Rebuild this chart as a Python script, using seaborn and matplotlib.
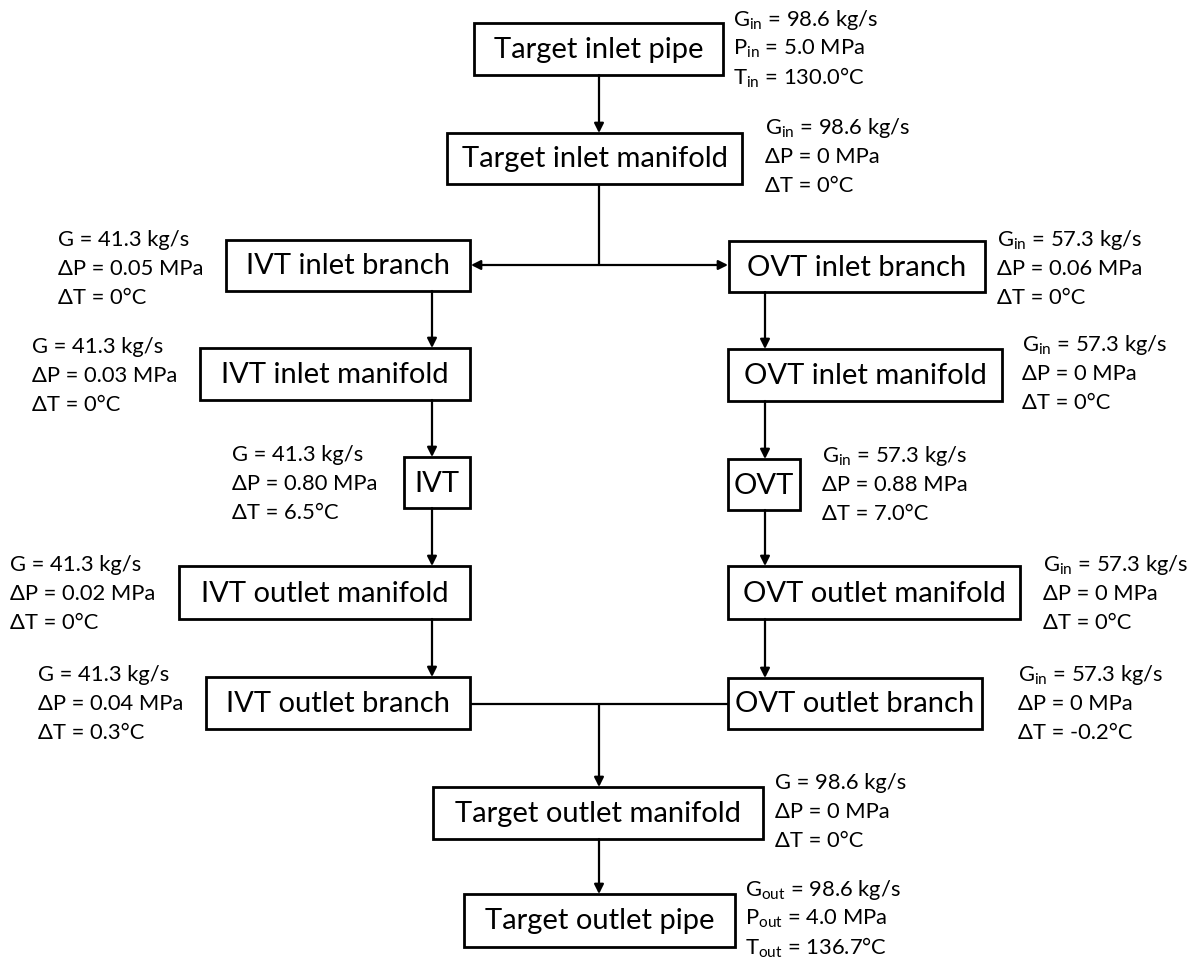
import matplotlib
matplotlib.use("Agg")
import matplotlib.pyplot as plt
import seaborn as sns
from matplotlib.patches import Rectangle

sns.set_theme(style="white")
plt.rcParams['font.family'] = ['Lato', 'DejaVu Sans']
plt.rcParams['mathtext.fontset'] = 'custom'
plt.rcParams['mathtext.rm'] = 'Lato'

# component names
names = ["Target inlet pipe", "Target inlet manifold",
         "IVT inlet branch", "OVT inlet branch",
         "IVT inlet manifold", "OVT inlet manifold",
         "IVT", "OVT",
         "IVT outlet manifold", "OVT outlet manifold",
         "IVT outlet branch", "OVT outlet branch",
         "Target outlet manifold", "Target outlet pipe"]

# flow values per component
g_label = ["G_{in}", "G_{in}", "G", "G_{in}", "G", "G_{in}", "G", "G_{in}",
           "G", "G_{in}", "G", "G_{in}", "G", "G_{out}"]
g_vals = [98.6, 98.6, 41.3, 57.3, 41.3, 57.3, 41.3, 57.3, 41.3, 57.3, 41.3, 57.3, 98.6, 98.6]
p_label = ["P_{in}", "ΔP", "ΔP", "ΔP", "ΔP", "ΔP", "ΔP", "ΔP", "ΔP", "ΔP", "ΔP", "ΔP", "ΔP", "P_{out}"]
p_vals = ["5.0", "0", "0.05", "0.06", "0.03", "0", "0.80", "0.88", "0.02", "0", "0.04", "0", "0", "4.0"]
t_label = ["T_{in}", "ΔT", "ΔT", "ΔT", "ΔT", "ΔT", "ΔT", "ΔT", "ΔT", "ΔT", "ΔT", "ΔT", "ΔT", "T_{out}"]
t_vals = ["130.0", "0", "0", "0", "0", "0", "6.5", "7.0", "0", "0", "0.3", "-0.2", "0", "136.7"]

# layout in pixel coords: box (x0, y0, x1, y1), side text anchor (x, y of first line)
boxes = [(474, 23, 723, 75), (447, 133, 742, 184),
         (226, 240, 470, 291), (729, 241, 985, 292),
         (200, 348, 470, 400), (728, 349, 1002, 401),
         (404, 457, 470, 508), (728, 459, 800, 510),
         (179, 566, 470, 619), (728, 566, 1020, 619),
         (206, 677, 470, 729), (728, 678, 982, 729),
         (433, 787, 763, 839), (464, 894, 735, 947)]
side = [(733, 20), (765, 128), (58, 240), (997, 240), (32, 347), (1022, 345),
        (232, 455), (822, 456), (10, 565), (1043, 565), (38, 675), (1018, 675),
        (775, 783), (745, 890)]
line_gap = 29

fig = plt.figure(figsize=(12.04, 9.64), dpi=100)
ax = fig.add_axes([0, 0, 1, 1])
ax.set_xlim(0, 1204)
ax.set_ylim(964, 0)
ax.axis("off")


def sub(s):
    if "_" in s:
        return "$\\mathregular{" + s + "}$"
    return s


for i, name in enumerate(names):
    x0, y0, x1, y1 = boxes[i]
    ax.add_patch(Rectangle((x0, y0), x1 - x0, y1 - y0, fill=False,
                           edgecolor="black", linewidth=2))
    ax.text((x0 + x1) / 2, (y0 + y1) / 2 + 1, name, ha="center", va="center",
            fontsize=21, color="black")
    sx, sy = side[i]
    lines = [f"{sub(g_label[i])} = {g_vals[i]} kg/s",
             f"{sub(p_label[i])} = {p_vals[i]} MPa",
             f"{sub(t_label[i])} = {t_vals[i]}°C"]
    for k, ln in enumerate(lines):
        ax.text(sx, sy + k * line_gap, ln, ha="left", va="center",
                fontsize=15.8, color="black")


def arrow(x0, y0, x1, y1):
    ax.annotate("", xy=(x1, y1), xytext=(x0, y0),
                arrowprops=dict(arrowstyle="-|>", color="black", lw=1.6,
                                mutation_scale=14, shrinkA=0, shrinkB=0))


def seg(xs, ys):
    ax.plot(xs, ys, color="black", lw=1.6, solid_capstyle="butt")


cx = 599
# main inlet
arrow(cx, 75, cx, 133)
seg([cx, cx], [184, 265])
arrow(cx, 265, 471, 265)
arrow(cx, 265, 728, 265)
# IVT side column
ivx = 432
arrow(ivx, 291, ivx, 348)
arrow(ivx, 400, ivx, 457)
arrow(ivx, 508, ivx, 566)
arrow(ivx, 619, ivx, 677)
# OVT side column
ovx = 765
arrow(ovx, 292, ovx, 349)
arrow(ovx, 401, ovx, 459)
arrow(ovx, 510, ovx, 566)
arrow(ovx, 619, ovx, 678)
# outlet merge
seg([470, 728], [704, 704])
arrow(cx, 704, cx, 787)
arrow(cx, 839, cx, 894)

fig.savefig("out.png", dpi=100, facecolor="white")
